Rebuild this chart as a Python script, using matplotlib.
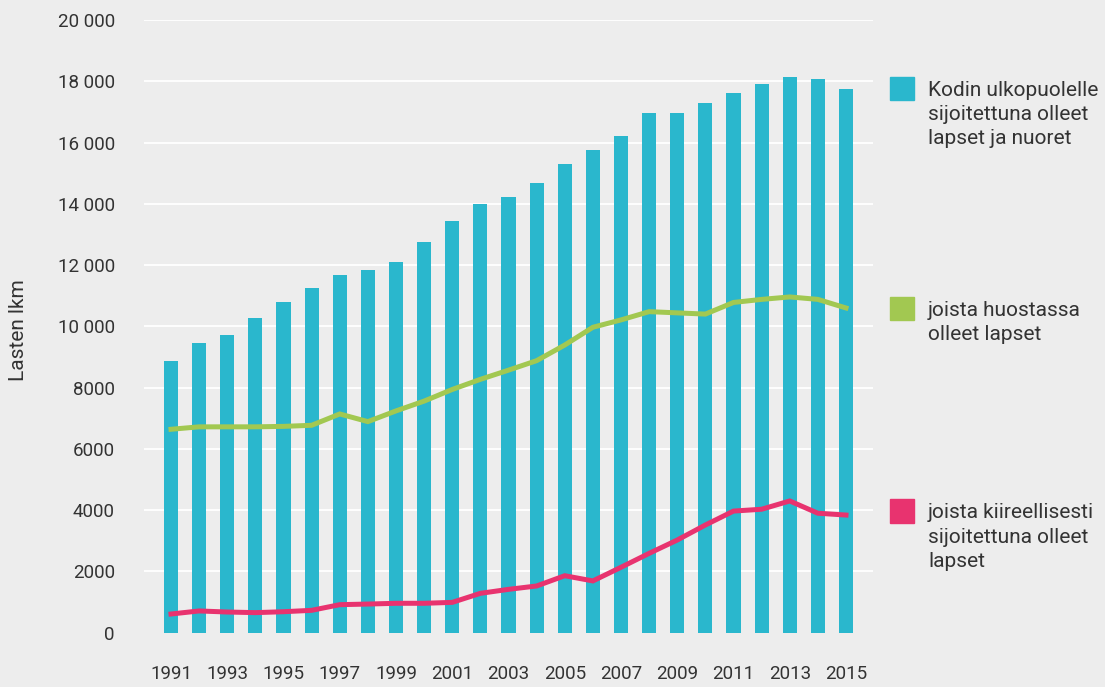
import matplotlib.pyplot as plt
from matplotlib.patches import Rectangle

years = list(range(1991, 2016))
placed_total = [8870, 9460, 9720, 10270, 10790, 11250, 11670, 11840, 12100,
                12750, 13440, 13990, 14220, 14680, 15300, 15750, 16210, 16960,
                16960, 17290, 17610, 17910, 18140, 18070, 17750]
custody = [6640, 6720, 6720, 6720, 6735, 6770, 7140, 6890, 7240, 7560, 7940,
           8270, 8570, 8880, 9390, 9970, 10210, 10480, 10440, 10400, 10780,
           10880, 10960, 10880, 10600]
emergency = [610, 710, 675, 655, 685, 730, 915, 935, 960, 960, 990, 1285,
             1415, 1525, 1860, 1690, 2135, 2590, 3025, 3515, 3970, 4030, 4300,
             3900, 3840]

y_ticks = [0, 2000, 4000, 6000, 8000, 10000, 12000, 14000, 16000, 18000, 20000]
y_tick_labels = ['0', '2000', '4000', '6000', '8000', '10 000', '12 000',
                 '14 000', '16 000', '18 000', '20 000']
x_ticks = years[::2]

legend_labels = ['Kodin ulkopuolelle\nsijoitettuna olleet\nlapset ja nuoret',
                 'joista huostassa\nolleet lapset',
                 'joista kiireellisesti\nsijoitettuna olleet\nlapset']

BAR_COLOUR = '#2AB7CD'
GREEN_COLOUR = '#A2C851'
PINK_COLOUR = '#E8336F'
BACKGROUND = '#EDEDED'
TEXT_COLOUR = '#333333'
FONT_SIZE = 13.5

plt.rcParams['font.family'] = ['Roboto', 'DejaVu Sans']

fig = plt.figure(figsize=(11.05, 6.87), dpi=100, facecolor=BACKGROUND)
ax = fig.add_axes([144 / 1105, 1 - 632.7 / 687, (873 - 144) / 1105,
                   (632.7 - 20) / 687])
ax.set_facecolor(BACKGROUND)

ax.bar(years, placed_total, width=0.5, color=BAR_COLOUR, zorder=2)
ax.plot(years, custody, color=GREEN_COLOUR, linewidth=3.6, zorder=3,
        solid_joinstyle='miter')
ax.plot(years, emergency, color=PINK_COLOUR, linewidth=3.6, zorder=3,
        solid_joinstyle='miter')

ax.set_xlim(1990.04, 2015.96)
ax.set_ylim(0, 20000)
ax.set_yticks(y_ticks)
ax.set_yticklabels(y_tick_labels)
ax.set_xticks(x_ticks)
ax.set_xticklabels([str(y) for y in x_ticks])
ax.tick_params(axis='y', length=0, pad=21, labelsize=FONT_SIZE,
               labelcolor=TEXT_COLOUR)
ax.tick_params(axis='x', length=0, pad=23, labelsize=FONT_SIZE,
               labelcolor=TEXT_COLOUR)

ax.yaxis.grid(True, color='white', linewidth=1.3, zorder=1)
ax.set_axisbelow(True)
ax.get_ygridlines()[0].set_visible(False)
for spine in ax.spines.values():
    spine.set_visible(False)

fig.text(19 / 1105, 1 - 330.5 / 687, 'Lasten lkm', rotation=90,
         ha='center', va='center', fontsize=15, color=TEXT_COLOUR)

# hand-placed legend on the right
legend_colours = [BAR_COLOUR, GREEN_COLOUR, PINK_COLOUR]
legend_tops = [76.7, 296.7, 499.3]
for colour, label, top in zip(legend_colours, legend_labels, legend_tops):
    fig.add_artist(Rectangle((890 / 1105, 1 - (top + 23.5) / 687),
                             24 / 1105, 23.5 / 687, color=colour,
                             transform=fig.transFigure))
    fig.text(928 / 1105, 1 - (top + 4) / 687, label, ha='left', va='top',
             fontsize=15, color=TEXT_COLOUR, linespacing=1.36)

fig.savefig('out.png', dpi=100, facecolor=BACKGROUND)
